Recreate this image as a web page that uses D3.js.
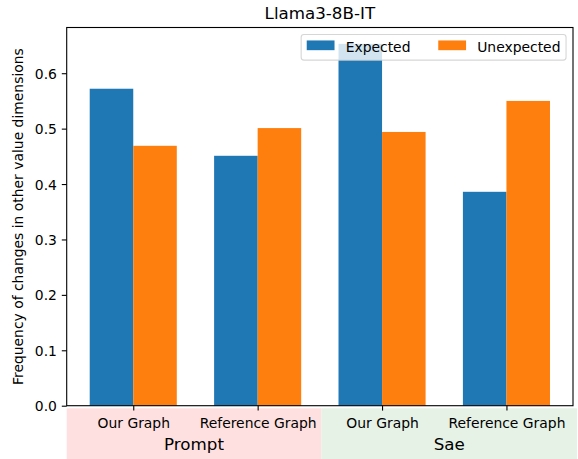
<!DOCTYPE html>
<html>
<head>
<meta charset="utf-8">
<script src="https://cdn.jsdelivr.net/npm/d3@7"></script>
<style>
  html, body { margin: 0; padding: 0; background: #fff; }
  svg { display: block; font-family: "DejaVu Sans", sans-serif; }
</style>
</head>
<body>
<svg id="chart" width="578" height="459"></svg>
<script>
// ---- data ----
const groups = ["Our Graph", "Reference Graph", "Our Graph", "Reference Graph"];
const categories = ["Prompt", "Sae"];
const expected = [0.572, 0.451, 0.653, 0.386];
const unexpected = [0.469, 0.501, 0.494, 0.550];
const seriesNames = ["Expected", "Unexpected"];
const yTicks = [0.0, 0.1, 0.2, 0.3, 0.4, 0.5, 0.6];
const title = "Llama3-8B-IT";
const yLabel = "Frequency of changes in other value dimensions";

// ---- layout ----
const W = 578, H = 459;
const L = 66.7, R = 573, T = 27.5, B = 405.7;
const fs = 13.9, fsBig = 16.7;
const colors = ["#1f77b4", "#ff7f0e"];
const barW = 0.35;
const bandFill = ["rgb(255,224,224)", "rgb(230,242,230)"];

const svg = d3.select("#chart");

const x = d3.scaleLinear().domain([-0.535, 3.535]).range([L, R]);
const y = d3.scaleLinear().domain([0, 0.6825]).range([B, T]);

// category bands under the axis
const mid = x(1.5) + 1.5;
const bandEdges = [[L, mid], [mid, 577]];
svg.selectAll("rect.band").data(categories).enter().append("rect")
  .attr("class", "band")
  .attr("x", (d, i) => bandEdges[i][0])
  .attr("width", (d, i) => bandEdges[i][1] - bandEdges[i][0])
  .attr("y", 408.3)
  .attr("height", H - 408.3)
  .attr("fill", (d, i) => bandFill[i]);

// bars
const series = [expected, unexpected];
series.forEach((vals, s) => {
  svg.append("g").selectAll("rect").data(vals).enter().append("rect")
    .attr("x", (d, i) => x(i + (s === 0 ? -barW : 0)))
    .attr("width", x(barW) - x(0))
    .attr("y", d => y(d))
    .attr("height", d => y(0) - y(d))
    .attr("fill", colors[s]);
});

// y axis
const yAxis = svg.append("g")
  .attr("transform", `translate(${L},0)`)
  .call(d3.axisLeft(y).tickValues(yTicks).tickFormat(d3.format(".1f")).tickSize(4.9).tickPadding(4.9));
yAxis.select(".domain").remove();
yAxis.selectAll("line").attr("stroke", "#000").attr("stroke-width", 1.1);
yAxis.selectAll("text").attr("font-size", fs).attr("font-family", "DejaVu Sans").attr("fill", "#000").attr("dy", "0.36em");

// x axis
const xAxis = svg.append("g")
  .attr("transform", `translate(0,${B})`)
  .call(d3.axisBottom(x).tickValues([0, 1, 2, 3]).tickFormat((d, i) => groups[i]).tickSize(4.9).tickPadding(4.9));
xAxis.select(".domain").remove();
xAxis.selectAll("line").attr("stroke", "#000").attr("stroke-width", 1.1);
xAxis.selectAll("text").attr("font-size", fs).attr("font-family", "DejaVu Sans").attr("fill", "#000")
  .attr("y", 0).attr("dy", 0).attr("transform", "translate(0,22.6)");

// frame
svg.append("rect").attr("x", L).attr("y", T).attr("width", R - L).attr("height", B - T)
  .attr("fill", "none").attr("stroke", "#000").attr("stroke-width", 1.1);

// category labels
svg.selectAll("text.cat").data(categories).enter().append("text")
  .attr("class", "cat")
  .attr("x", (d, i) => (bandEdges[i][0] + bandEdges[i][1]) / 2)
  .attr("y", 450)
  .attr("text-anchor", "middle")
  .attr("font-size", fsBig)
  .attr("fill", "#000")
  .text(d => d);

// title
svg.append("text").attr("x", (L + R) / 2).attr("y", 19)
  .attr("text-anchor", "middle").attr("font-size", fsBig).attr("fill", "#000").text(title);

// y label
svg.append("text")
  .attr("transform", `translate(23,${(T + B) / 2}) rotate(-90)`)
  .attr("text-anchor", "middle").attr("font-size", fs).attr("fill", "#000").text(yLabel);

// legend (upper right, 2 columns)
const pad = 0.5 * fs, bpad = 0.4 * fs, hl = 2.0 * fs, htp = 0.8 * fs, cs = 2.0 * fs, hh = 0.7 * fs;
const lg = svg.append("g");
const box = lg.append("rect");
const items = lg.selectAll("g.item").data(seriesNames).enter().append("g").attr("class", "item");
items.append("rect").attr("width", hl).attr("height", hh).attr("fill", (d, i) => colors[i]);
const texts = items.append("text").attr("font-size", fs).attr("fill", "#000").text(d => d);
const widths = [];
texts.each(function () { widths.push(this.getComputedTextLength()); });
const itemW = widths.map(w => hl + htp + w);
const totalW = bpad * 2 + itemW[0] + cs + itemW[1];
const boxH = 25.7;
const bx = R - pad - totalW, by = T + pad;
box.attr("x", bx).attr("y", by).attr("width", totalW).attr("height", boxH)
  .attr("rx", 2.8).attr("fill", "#fff").attr("fill-opacity", 0.8)
  .attr("stroke", "#cccccc").attr("stroke-opacity", 0.8).attr("stroke-width", 1.1);
let cx = bx + bpad;
items.each(function (d, i) {
  const g = d3.select(this);
  g.select("rect").attr("x", cx).attr("y", by + 6.0);
  g.select("text").attr("x", cx + hl + htp).attr("y", by + 17.5);
  cx += itemW[i] + cs;
});
</script>
</body>
</html>
